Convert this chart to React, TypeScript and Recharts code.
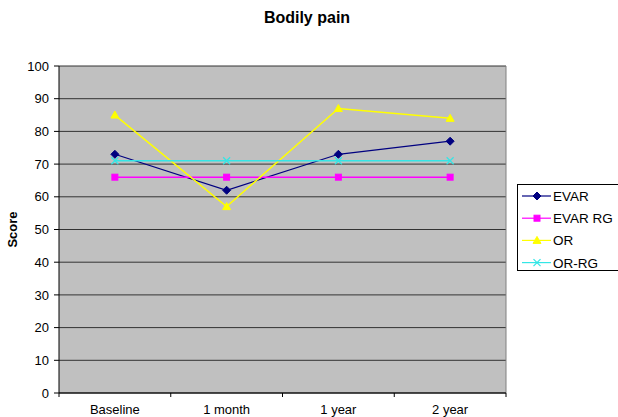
import React from 'react';
import { LineChart, Line, XAxis, YAxis, CartesianGrid, ReferenceLine } from 'recharts';

const categories = ['Baseline', '1 month', '1 year', '2 year'];
const evar = [73, 62, 73, 77];
const evarRg = [66, 66, 66, 66];
const orVals = [85, 57, 87, 84];
const orRg = [71, 71, 71, 71];
const yTicks = [0, 10, 20, 30, 40, 50, 60, 70, 80, 90, 100];

const data = categories.map((c, i) => ({
  x: i + 0.5,
  name: c,
  evar: evar[i],
  evarRg: evarRg[i],
  or: orVals[i],
  orRg: orRg[i],
}));

const xTicks: number[] = [];
for (let i = 0; i <= categories.length * 2; i++) xTicks.push(i / 2);

const FONT = 'Arial, "Liberation Sans", sans-serif';

const series = [
  { key: 'evar', name: 'EVAR', color: '#000080', shape: 'diamond' },
  { key: 'evarRg', name: 'EVAR RG', color: '#FF00FF', shape: 'square' },
  { key: 'or', name: 'OR', color: '#FFFF00', shape: 'triangle' },
  { key: 'orRg', name: 'OR-RG', color: '#33E6E6', shape: 'x' },
];

function Marker({ cx, cy, shape, color }: any) {
  if (cx == null || cy == null) return null;
  if (shape === 'diamond') {
    return <path d={`M${cx},${cy - 4}L${cx + 4},${cy}L${cx},${cy + 4}L${cx - 4},${cy}Z`} fill={color} stroke={color} />;
  }
  if (shape === 'square') {
    return <rect x={cx - 3} y={cy - 3} width={6} height={6} fill={color} stroke={color} />;
  }
  if (shape === 'triangle') {
    return <path d={`M${cx},${cy - 4}L${cx + 4},${cy + 3}L${cx - 4},${cy + 3}Z`} fill={color} stroke={color} />;
  }
  return (
    <g stroke={color} strokeWidth={1.3}>
      <line x1={cx - 3.5} y1={cy - 3.5} x2={cx + 3.5} y2={cy + 3.5} />
      <line x1={cx - 3.5} y1={cy + 3.5} x2={cx + 3.5} y2={cy - 3.5} />
    </g>
  );
}

function XTick({ x, y, payload }: any) {
  const v = payload.value;
  if (Number.isInteger(v)) {
    return <line x1={x} y1={y} x2={x} y2={y + 4} stroke="#000" />;
  }
  const label = categories[Math.floor(v)];
  return (
    <text x={x} y={y + 20.5} textAnchor="middle" fontSize={13} fontFamily={FONT} fill="#000">
      {label}
    </text>
  );
}

function LegendBox() {
  return (
    <div style={{ position: 'absolute', left: 517, top: 184, width: 120, height: 87, border: '1px solid #000', background: '#fff', boxSizing: 'border-box' }}>
      <svg width={118} height={85} style={{ display: 'block' }}>
        {series.map((s, i) => {
          const y = 11 + i * 22.2;
          return (
            <g key={s.key}>
              <line x1={4} y1={y} x2={33} y2={y} stroke={s.color} strokeWidth={1.2} />
              <Marker cx={19} cy={y} shape={s.shape} color={s.color} />
              <text x={35} y={y + 5} fontSize={13.5} fontFamily={FONT} fill="#000">{s.name}</text>
            </g>
          );
        })}
      </svg>
    </div>
  );
}

export default function App() {
  return (
    <div style={{ position: 'absolute', left: 0, top: 0, width: 618, height: 417, background: '#fff', overflow: 'hidden' }}>
      <div style={{ position: 'absolute', left: 0, top: 9, width: 614, textAlign: 'center', fontFamily: FONT, fontSize: 16, fontWeight: 'bold' }}>
        Bodily pain
      </div>
      <LineChart width={618} height={417} data={data} margin={{ top: 66, right: 112, bottom: 0, left: 0 }}>
        <CartesianGrid vertical={false} stroke="#333" fill="#C0C0C0" fillOpacity={1} />
        <XAxis
          dataKey="x"
          type="number"
          domain={[0, 4]}
          ticks={xTicks}
          interval={0}
          tick={<XTick />}
          tickLine={false}
          tickSize={0}
          tickMargin={0}
          axisLine={{ stroke: '#000' }}
          height={24}
        />
        <YAxis
          domain={[0, 100]}
          ticks={yTicks}
          interval={0}
          width={59}
          tickSize={5}
          tickMargin={5}
          tick={{ fontSize: 13, fontFamily: FONT, fill: '#000' }}
          tickLine={{ stroke: '#000' }}
          axisLine={{ stroke: '#000' }}
          label={{ value: 'Score', angle: -90, position: 'center', dx: -17.5, style: { fontSize: 13, fontFamily: FONT, fontWeight: 'bold', fill: '#000' } }}
        />
        <ReferenceLine x={4} stroke="#808080" />
        {series.map((s) => (
          <Line
            key={s.key}
            dataKey={s.key}
            name={s.name}
            stroke={s.color}
            strokeWidth={s.key === 'evar' ? 1.2 : 1.5}
            isAnimationActive={false}
            dot={(p: any) => <Marker key={`${s.key}-${p.index}`} cx={p.cx} cy={p.cy} shape={s.shape} color={s.color} />}
            activeDot={false}
          />
        ))}
      </LineChart>
      <LegendBox />
    </div>
  );
}
